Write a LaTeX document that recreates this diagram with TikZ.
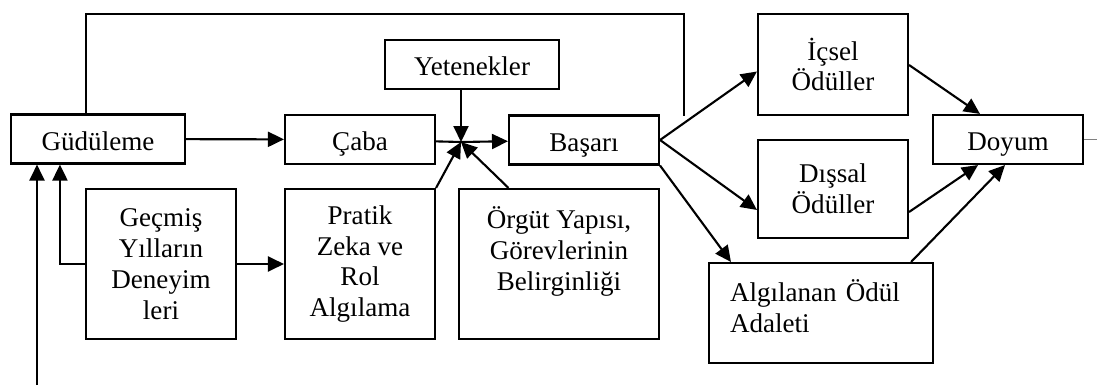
\documentclass[tikz,border=0pt]{standalone}
\usepackage{fontspec}
\setmainfont{Liberation Serif}
\usetikzlibrary{arrows.meta,calc}

\begin{document}
\begin{tikzpicture}[x=0.02cm, y=-0.02cm,
  kutu/.style={draw, line width=1.2pt, align=center, inner sep=0pt, font=\fontsize{15.4}{17.6}\selectfont},
  tek/.style={kutu, text height=13pt, text depth=0pt, minimum height=0.98cm},
  ok/.style={line width=1.2pt, -{Triangle[length=0.32cm,width=0.3cm]}},
  cizgi/.style={line width=1.2pt}]
\useasboundingbox (0,0) rectangle (1097,385);
\node[tek, minimum width=3.48cm] (gud) at (98,139) {Güdüleme};
\node[tek, minimum width=3cm] (caba) at (360,139.5) {Çaba};
\node[tek, minimum width=3.48cm] (yet) at (472,64.5) {Yetenekler};
\node[tek, minimum width=3cm] (basari) at (584,140) {Başarı};
\node[kutu, minimum width=3cm, minimum height=3cm] (gecmis) at (161,264) {Geçmiş\\Yılların\\Deneyim\\leri};
\node[kutu, minimum width=3cm, minimum height=3cm] (pratik) at (360,264) {Pratik\\Zeka ve\\Rol\\Algılama};
\node[kutu, minimum width=4cm, minimum height=3cm] (orgut) at (559,264) {Örgüt Yapısı,\\Görevlerinin\\Belirginliği\\\mbox{}};
\node[kutu, minimum width=3cm, minimum height=2.02cm] (icsel) at (833,64.5) {İçsel\\Ödüller};
\node[kutu, minimum width=3cm, minimum height=1.96cm] (dissal) at (833,189) {Dışsal\\Ödüller};
\node[tek, minimum width=3cm] (doyum) at (1008,139.5) {Doyum};
\node[kutu, minimum width=4.48cm, minimum height=2cm, align=left, text width=3.64cm, inner xsep=0.42cm] (adalet) at (821,313) {Algılanan Ödül\\Adaleti\\[-0.34cm]\mbox{}};
\coordinate (j) at (461,142);
\coordinate (alt) at (37,385);
\coordinate (ust) at (684,14);
\coordinate (uc) at (684,116);
\coordinate (cikis) at (1097,139.5);
\draw[ok] (gud) -- (caba);
\draw[cizgi] (caba) -- (j);
\draw[ok] (j) -- (basari);
\draw[ok] (j |- yet.south) -- (j);
\draw[ok] (pratik.north east) -- (j);
\draw[ok] ($(orgut.north west)!0.25!(orgut.north east)$) -- (j);
\draw[ok] (gecmis) -- (pratik);
\draw[ok] (gecmis.west) -| ([xshift=1cm]gud.south west);
\draw[ok] (alt) -- (alt |- gud.south);
\draw[cizgi] ([xshift=-0.24cm]gud.north) |- (ust) -- (uc);
\draw[ok] (basari.east) -- ([yshift=-0.14cm]icsel.west);
\draw[ok] (basari.east) -- ([yshift=-0.42cm]dissal.west);
\draw[ok] (basari.south east) -- ([xshift=0.46cm]adalet.north west);
\draw[ok] ([yshift=-0.01cm]icsel.east) -- ([xshift=-0.56cm]doyum.north);
\draw[ok] ([yshift=-0.46cm]dissal.east) -- ([xshift=-0.6cm]doyum.south);
\draw[ok] ([xshift=-0.46cm]adalet.north east) -- ([xshift=-0.06cm]doyum.south);
\draw[gray, line width=0.6pt] (doyum) -- (cikis);
\end{tikzpicture}
\end{document}
